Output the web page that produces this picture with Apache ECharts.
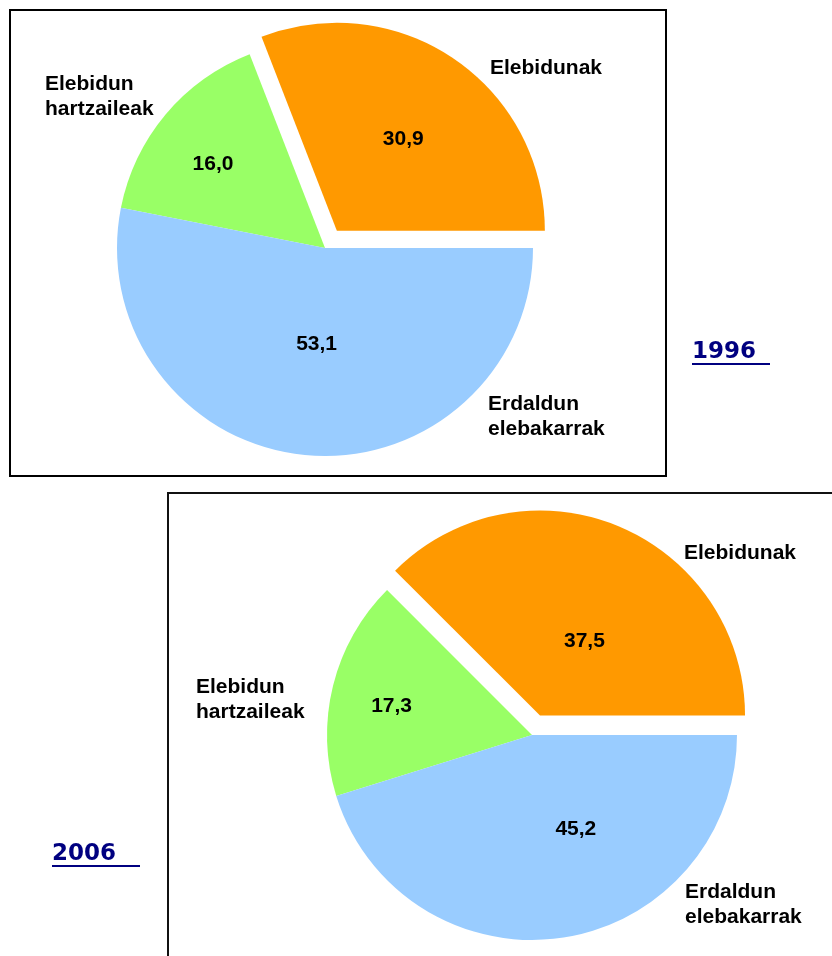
<!DOCTYPE html>
<html>
<head>
<meta charset="utf-8">
<script src="https://cdn.jsdelivr.net/npm/echarts@6/dist/echarts.min.js"></script>
<style>
  html, body { margin: 0; padding: 0; background: #fff; }
  #main { width: 832px; height: 956px; }
</style>
</head>
<body>
<div id="main"></div>
<script>
// categories and values
var categories = ['Elebidunak', 'Elebidun\nhartzaileak', 'Erdaldun\nelebakarrak'];
var years = ['1996', '2006'];
var values1996 = [30.9, 16.0, 53.1];
var values2006 = [37.5, 17.3, 45.2];
var colors = ['#FF9900', '#99FF66', '#99CCFF'];

var chartDom = document.getElementById('main');
var myChart = echarts.init(chartDom);
var option;

var labelFont = 'Liberation Sans, Arial, sans-serif';

// tweak of value labels (Excel puts them a bit off the middle)
var shift1996 = [[6, -3], [-30, -15], [2, -10]];
var shift2006 = [[4, 23], [-38, -4], [28, -10]];

function pieData(values) {
    return values.map(function (v, i) {
        return {
            name: categories[i],
            value: v,
            selected: i === 0,
            itemStyle: { color: colors[i] }
        };
    });
}

function pieSeries(values, center, radius, shift) {
    return {
        type: 'pie',
        center: center,
        radius: radius,
        startAngle: 0,
        clockwise: false,
        selectedMode: 'single',
        selectedOffset: 21,
        avoidLabelOverlap: false,
        animation: false,
        silent: true,
        itemStyle: { borderWidth: 0 },
        label: {
            position: 'inside',
            formatter: function (p) {
                return p.value.toFixed(1).replace('.', ',');
            },
            color: '#000',
            fontFamily: labelFont,
            fontWeight: 'bold',
            fontSize: 21
        },
        labelLine: { show: false },
        labelLayout: function (p) {
            return { dx: shift[p.dataIndex][0], dy: shift[p.dataIndex][1] };
        },
        emphasis: { disabled: true },
        data: pieData(values)
    };
}

function nameText(i, x, y) {
    return {
        type: 'text',
        x: x,
        y: y,
        style: {
            text: categories[i],
            fill: '#000',
            font: 'bold 21px ' + labelFont,
            lineHeight: 25,
            verticalAlign: 'middle',
            align: 'left'
        }
    };
}

function yearText(t, x, y, w) {
    return [
        {
            type: 'text',
            x: x,
            y: y,
            style: {
                text: t,
                fill: '#000080',
                font: 'bold 23px DejaVu Sans, sans-serif',
                verticalAlign: 'middle',
                align: 'left'
            }
        },
        {
            type: 'line',
            shape: { x1: x, y1: y + 12, x2: x + w, y2: y + 12 },
            style: { stroke: '#000080', lineWidth: 2 }
        }
    ];
}

option = {
    backgroundColor: '#fff',
    graphic: [
        {
            type: 'rect',
            shape: { x: 10, y: 10, width: 656, height: 466 },
            style: { fill: 'none', stroke: '#000', lineWidth: 2 }
        },
        {
            type: 'rect',
            shape: { x: 168, y: 493, width: 700, height: 500 },
            style: { fill: 'none', stroke: '#111', lineWidth: 2 }
        },
        nameText(0, 490, 68),
        nameText(1, 45, 97),
        nameText(2, 488, 417),
        nameText(0, 684, 553),
        nameText(1, 196, 700),
        nameText(2, 685, 905)
    ].concat(yearText(years[0], 692, 352, 78), yearText(years[1], 52, 854, 88)),
    series: [
        pieSeries(values1996, [325, 248], 208, shift1996),
        pieSeries(values2006, [532, 735], 205, shift2006)
    ]
};

option && myChart.setOption(option);
</script>
</body>
</html>
